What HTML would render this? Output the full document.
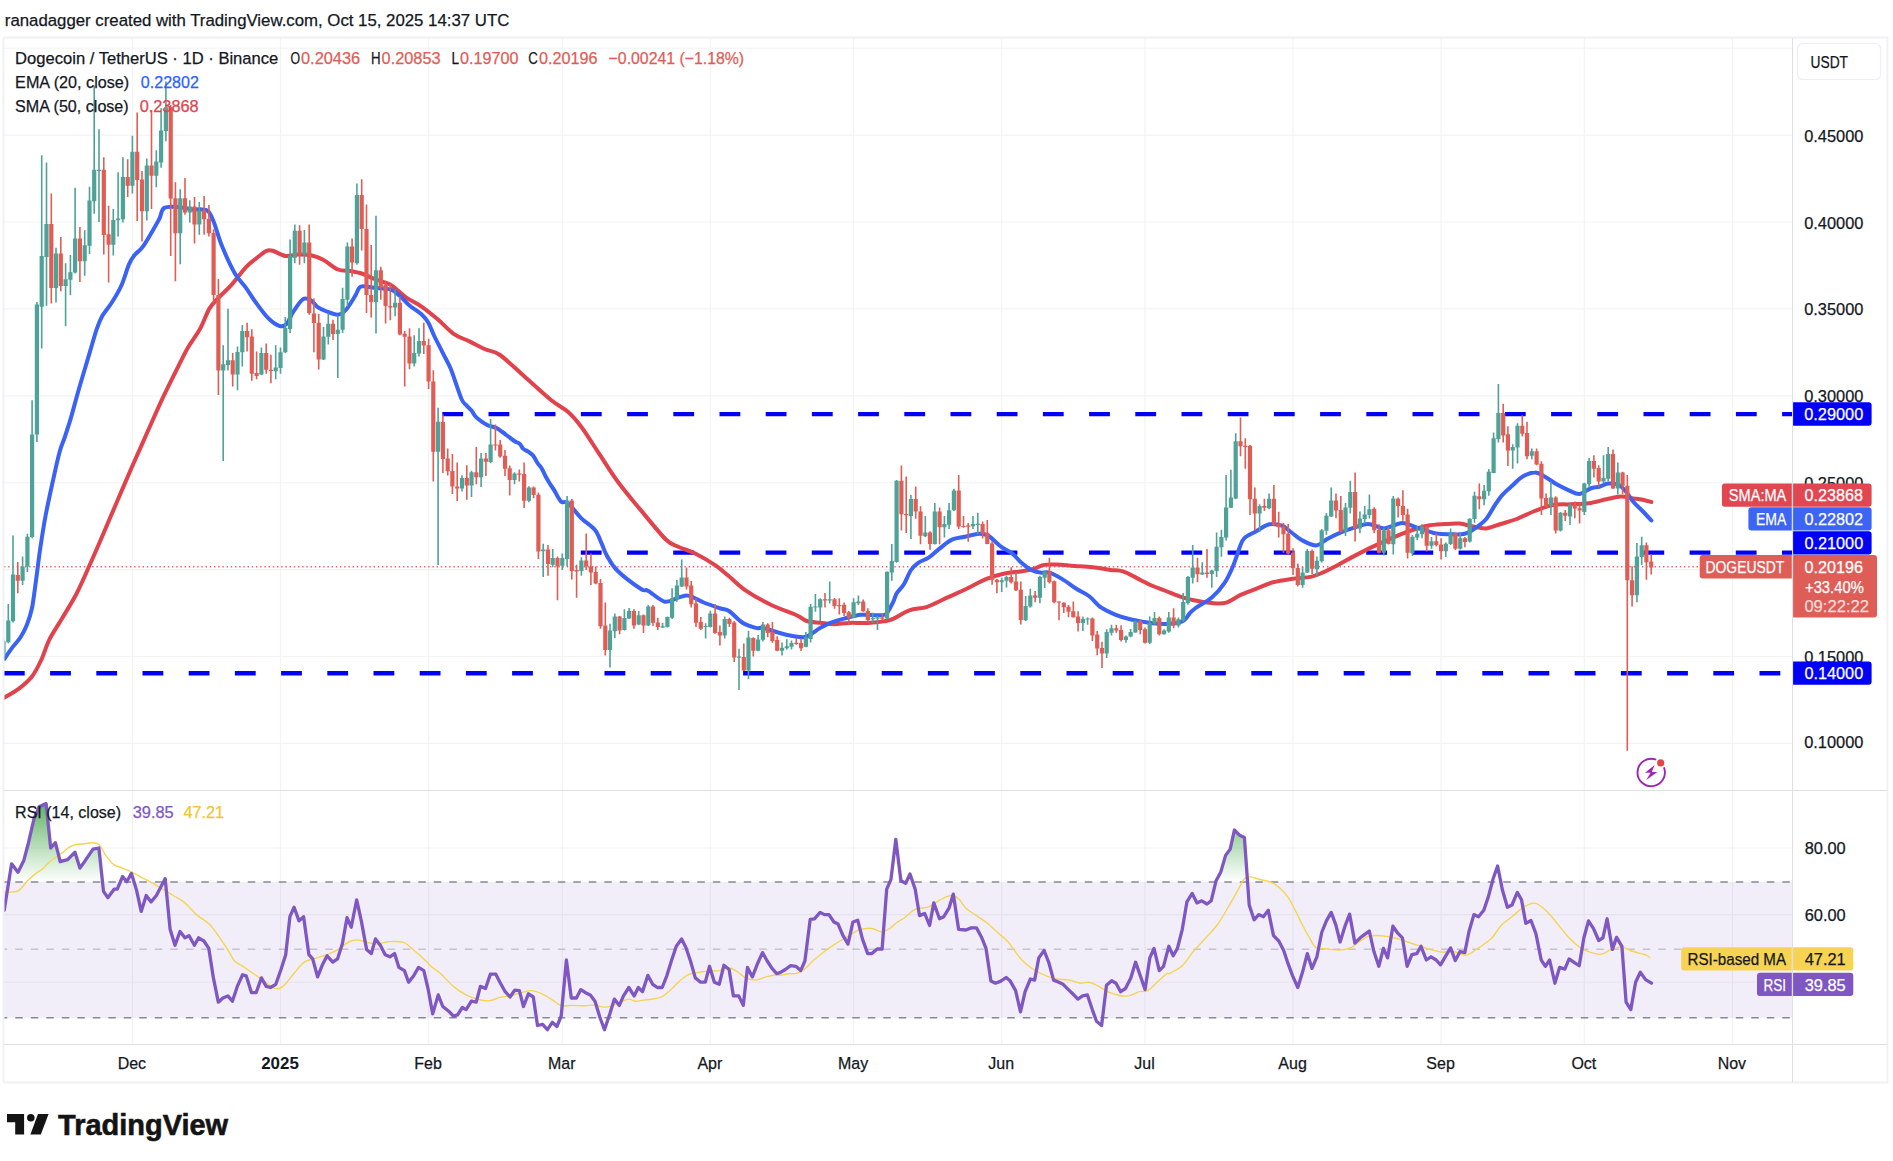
<!DOCTYPE html>
<html><head><meta charset="utf-8"><title>DOGEUSDT chart</title>
<style>html,body{margin:0;padding:0;background:#fff}body{width:1893px;height:1161px;overflow:hidden}svg{display:block}</style></head>
<body>
<svg width="1893" height="1161" viewBox="0 0 1893 1161" font-family='"Liberation Sans", "DejaVu Sans", sans-serif'>
<defs>
<clipPath id="cm"><rect x="4" y="38" width="1788.5" height="752.5"/></clipPath>
<clipPath id="cr"><rect x="4" y="790.5" width="1788.5" height="254.0"/></clipPath>
<linearGradient id="ob" x1="0" y1="790" x2="0" y2="882" gradientUnits="userSpaceOnUse"><stop offset="0" stop-color="#43a047" stop-opacity="1"/><stop offset="1" stop-color="#4caf50" stop-opacity="0"/></linearGradient>
</defs>
<rect width="1893" height="1161" fill="#fff"/>
<text x="4.8" y="26.3" font-size="17.1" fill="#131722" textLength="504.5" lengthAdjust="spacingAndGlyphs" stroke="#131722" stroke-width="0.25">ranadagger created with TradingView.com, Oct 15, 2025 14:37 UTC</text>
<path d="M4 48.2H1792.5M4 135.1H1792.5M4 222H1792.5M4 308.9H1792.5M4 395.8H1792.5M4 482.7H1792.5M4 569.6H1792.5M4 656.5H1792.5M4 743.4H1792.5M4 848H1792.5M4 914.6H1792.5M4 982.2H1792.5M132.4 38V1044.5M280.5 38V1044.5M428.6 38V1044.5M562.3 38V1044.5M710.3 38V1044.5M853.6 38V1044.5M1001.7 38V1044.5M1145.0 38V1044.5M1293.0 38V1044.5M1441.1 38V1044.5M1584.3 38V1044.5M1732.4 38V1044.5" stroke="#f2f3f4" stroke-width="1.15" fill="none"/>
<rect x="4" y="882" width="1788.5" height="136" fill="#7e57c2" fill-opacity="0.1"/>
<g clip-path="url(#cm)">
<path d="M4 566.8H1792.5" stroke="#e2675f" stroke-width="1.5" stroke-dasharray="1.4 2.8" fill="none"/>
<path d="M442.3 414.1H1792.5" stroke="#0000f8" stroke-width="4.4" stroke-dasharray="20.8 25.4" fill="none"/>
<path d="M580.8 552.65H1792.5" stroke="#0000f8" stroke-width="4.4" stroke-dasharray="20.8 25.4" fill="none"/>
<path d="M3.9 673.2H1781" stroke="#0000f8" stroke-width="4.4" stroke-dasharray="20.8 25.4" fill="none"/>
<path d="M4.5 697.5C6.8 696.0 14.0 692.3 18.6 688.8C23.2 685.3 28.2 681.2 32.0 676.4C35.8 671.6 38.4 666.0 41.3 659.8C44.2 653.6 46.1 646.1 49.6 639.2C53.1 632.3 57.5 626.1 62.0 618.5C66.5 610.9 72.0 602.3 76.5 593.7C81.0 585.1 84.8 576.0 88.9 566.8C93.1 557.6 96.9 548.8 101.4 538.3C105.9 527.8 110.9 515.8 116.0 504.0C121.1 492.2 126.6 479.1 131.8 467.3C137.0 455.5 141.9 444.4 147.0 433.0C152.1 421.6 157.6 408.9 162.3 398.9C167.0 388.9 170.8 381.4 175.0 373.0C179.2 364.6 183.4 355.5 187.6 348.2C191.8 340.9 196.3 335.6 200.0 329.0C203.7 322.4 206.3 313.7 209.5 308.4C212.7 303.1 215.3 301.3 219.0 297.3C222.7 293.3 227.2 289.6 231.7 284.6C236.2 279.6 241.8 271.7 246.0 267.2C250.2 262.7 253.6 260.4 257.0 257.7C260.4 255.0 264.0 252.0 266.6 250.8C269.2 249.7 269.7 249.9 272.9 250.8C276.1 251.7 281.4 255.4 285.6 256.0C289.8 256.6 294.1 254.6 298.3 254.5C302.5 254.4 306.7 254.4 310.9 255.3C315.1 256.2 319.1 257.6 323.6 260.0C328.1 262.4 333.4 267.7 337.9 269.5C342.4 271.3 346.6 270.3 350.6 271.0C354.6 271.7 357.8 272.2 361.7 273.5C365.6 274.8 369.6 277.1 374.3 279.0C379.1 280.9 384.9 281.6 390.2 284.6C395.5 287.7 400.7 293.6 406.0 297.3C411.3 301.0 416.6 303.1 421.9 306.8C427.2 310.5 432.4 314.8 437.7 319.3C443.0 323.8 448.3 330.1 453.6 333.8C458.9 337.5 464.1 338.8 469.4 341.4C474.7 344.0 480.2 347.0 485.3 349.3C490.4 351.6 493.4 350.4 500.0 355.0C506.6 359.6 516.5 369.5 525.0 377.0C533.5 384.5 543.9 394.2 551.0 400.0C558.1 405.8 562.8 407.3 567.9 411.8C573.0 416.3 576.3 420.2 581.4 427.0C586.5 433.8 592.1 443.1 598.3 452.4C604.5 461.7 611.5 473.2 618.6 482.8C625.7 492.4 632.7 500.4 640.6 509.9C648.5 519.4 659.6 533.4 665.9 539.5C672.2 545.6 673.4 544.5 678.3 546.8C683.2 549.1 689.0 550.4 695.2 553.5C701.4 556.6 709.9 561.6 715.5 565.4C721.1 569.2 723.9 572.1 729.0 576.3C734.1 580.5 738.9 585.9 745.9 590.7C752.9 595.5 762.8 600.9 771.3 605.0C779.8 609.1 790.7 612.5 796.6 615.2C802.5 617.9 802.8 619.7 806.8 621.0C810.8 622.3 815.8 622.3 820.3 622.8C824.8 623.3 828.8 624.2 833.8 624.2C838.8 624.2 844.3 623.1 850.0 622.9C855.7 622.7 861.4 623.3 868.0 622.9C874.6 622.5 882.6 622.3 889.5 620.2C896.4 618.1 903.0 612.6 909.3 610.4C915.6 608.2 920.6 609.0 927.2 606.8C933.8 604.5 942.2 599.9 948.8 596.9C955.4 593.9 960.4 591.8 966.7 588.8C973.0 585.8 980.2 581.4 986.5 578.9C992.8 576.4 998.8 574.8 1004.5 573.5C1010.2 572.2 1015.8 572.1 1020.6 571.4C1025.4 570.6 1029.3 570.1 1033.2 569.0C1037.1 567.9 1040.1 565.6 1044.0 564.9C1047.9 564.2 1051.4 564.4 1056.5 564.6C1061.6 564.8 1068.5 565.6 1074.5 566.0C1080.5 566.4 1086.5 566.6 1092.5 567.2C1098.5 567.9 1105.3 569.2 1110.4 569.9C1115.5 570.6 1118.5 570.0 1123.0 571.4C1127.5 572.8 1132.6 576.0 1137.4 578.4C1142.2 580.8 1146.9 583.4 1151.7 585.5C1156.5 587.6 1161.5 589.2 1166.0 591.0C1170.5 592.8 1174.0 594.5 1178.7 596.0C1183.4 597.5 1188.4 599.1 1193.9 600.3C1199.4 601.5 1206.4 602.6 1211.8 603.0C1217.2 603.4 1221.4 604.0 1226.2 602.6C1231.0 601.2 1235.5 597.2 1240.6 594.9C1245.7 592.6 1251.3 590.7 1256.7 588.6C1262.1 586.5 1266.9 583.9 1272.9 582.3C1278.9 580.6 1286.4 579.6 1292.7 578.7C1299.0 577.8 1305.5 578.0 1310.6 576.9C1315.7 575.8 1318.7 574.3 1323.2 572.4C1327.7 570.5 1332.2 568.0 1337.6 565.2C1343.0 562.4 1349.5 558.5 1355.5 555.4C1361.5 552.3 1367.5 549.2 1373.5 546.4C1379.5 543.5 1385.4 540.9 1391.4 538.3C1397.4 535.7 1403.4 533.1 1409.4 531.0C1415.4 528.9 1421.4 526.9 1427.4 525.7C1433.4 524.5 1439.9 524.4 1445.3 524.0C1450.7 523.6 1455.3 523.2 1459.7 523.6C1464.1 524.0 1467.4 525.4 1471.8 526.2C1476.2 527.0 1481.4 528.8 1486.2 528.4C1491.0 528.0 1495.5 525.6 1500.6 524.0C1505.7 522.4 1511.0 521.2 1516.7 519.0C1522.4 516.8 1528.7 513.3 1534.7 511.0C1540.7 508.7 1546.7 506.1 1552.7 505.0C1558.7 503.9 1564.6 504.6 1570.6 504.3C1576.6 504.0 1582.6 504.1 1588.6 503.3C1594.6 502.5 1601.1 500.4 1606.5 499.3C1611.9 498.2 1616.4 496.8 1620.9 496.6C1625.4 496.5 1629.9 497.9 1633.5 498.4C1637.1 498.9 1639.5 499.1 1642.5 499.7C1645.5 500.3 1649.9 501.6 1651.4 502.0" stroke="#e0434c" stroke-width="4" fill="none" stroke-linejoin="round" stroke-linecap="round"/>
<path d="M4.5 658.8C5.8 656.9 9.7 651.0 12.4 647.4C15.1 643.8 18.3 640.8 20.7 637.0C23.1 633.2 25.0 629.5 26.9 624.7C28.8 619.9 30.4 615.6 32.0 608.0C33.5 600.4 34.8 589.0 36.2 579.0C37.6 569.0 38.7 558.6 40.3 548.0C41.9 537.4 43.6 526.0 45.6 515.5C47.6 505.0 49.7 495.6 52.0 485.0C54.3 474.4 57.5 459.8 59.6 452.0C61.7 444.2 62.7 443.4 64.5 438.0C66.3 432.6 68.1 427.2 70.3 419.9C72.5 412.6 75.0 402.9 77.5 394.0C80.0 385.1 83.2 374.4 85.5 366.7C87.8 359.0 89.2 354.1 91.1 347.8C93.0 341.5 94.9 334.2 96.8 328.8C98.7 323.4 100.0 320.0 102.5 315.6C105.0 311.2 108.8 307.4 112.0 302.3C115.2 297.2 118.7 291.5 121.5 285.2C124.3 278.9 126.8 269.4 129.0 264.4C131.2 259.3 132.5 257.7 134.7 254.9C136.9 252.1 139.5 251.2 142.3 247.4C145.2 243.6 149.0 236.9 151.8 232.2C154.6 227.4 157.2 222.9 159.3 218.9C161.4 214.9 161.1 210.0 164.1 208.0C167.1 206.0 172.7 206.7 177.5 206.9C182.3 207.1 188.9 209.0 192.7 209.4C196.4 209.8 197.4 209.1 200.0 209.3C202.6 209.6 205.8 208.9 208.0 210.9C210.2 212.9 211.1 215.2 213.5 221.2C215.9 227.1 218.6 237.9 222.2 246.6C225.8 255.3 230.9 266.6 234.9 273.5C238.9 280.4 242.6 283.1 246.0 287.8C249.4 292.6 251.8 297.0 255.5 302.0C259.2 307.0 264.1 313.9 268.0 317.9C271.9 321.9 276.1 324.8 279.2 325.8C282.3 326.9 284.0 326.6 286.4 324.2C288.8 321.8 290.7 315.7 293.5 311.5C296.3 307.3 300.1 301.1 303.0 299.2C305.9 297.3 308.6 299.1 311.0 300.4C313.4 301.7 314.7 304.9 317.3 306.8C319.9 308.7 323.4 310.2 326.8 311.5C330.2 312.8 334.7 314.9 337.9 314.7C341.1 314.4 342.9 313.2 345.8 310.0C348.7 306.8 352.8 299.6 355.3 295.7C357.8 291.8 357.7 287.8 360.9 286.5C364.1 285.2 369.4 287.3 374.3 287.8C379.2 288.3 386.0 288.1 390.2 289.4C394.4 290.7 396.5 293.1 399.7 295.7C402.9 298.3 405.5 302.0 409.2 305.2C412.9 308.4 418.7 311.8 421.9 314.7C425.1 317.6 426.1 318.8 428.2 322.4C430.3 326.0 432.1 331.5 434.5 336.5C436.9 341.5 439.9 347.1 442.5 352.3C445.1 357.6 448.0 362.4 450.4 368.0C452.8 373.6 454.8 380.3 456.7 385.6C458.6 390.9 460.4 396.7 462.0 400.0C463.6 403.3 464.6 403.5 466.2 405.2C467.8 406.9 469.8 408.4 471.3 410.3C472.9 412.2 473.8 414.6 475.5 416.5C477.2 418.4 479.6 420.2 481.7 421.7C483.8 423.2 485.5 424.3 487.9 425.3C490.3 426.3 493.7 426.8 496.1 427.9C498.5 429.0 500.2 430.5 502.3 432.0C504.4 433.5 506.4 435.1 508.5 436.7C510.6 438.2 512.8 440.1 514.7 441.3C516.6 442.5 518.5 442.7 519.9 443.9C521.3 445.1 521.6 447.3 523.0 448.6C524.4 449.9 526.5 450.5 528.2 451.7C529.9 452.9 531.8 453.9 533.3 455.8C534.8 457.7 536.1 460.9 537.5 463.0C538.9 465.1 540.2 465.9 541.6 468.2C543.0 470.4 544.3 473.9 545.7 476.5C547.1 479.1 548.5 481.5 549.9 483.7C551.3 485.9 552.1 486.9 554.0 489.9C555.9 492.9 558.7 499.3 561.0 501.5C563.3 503.7 564.5 500.2 567.9 503.0C571.3 505.8 576.9 513.8 581.4 518.3C585.9 522.8 591.6 525.8 595.0 530.0C598.4 534.2 599.7 539.5 601.7 543.7C603.7 548.0 604.2 551.0 606.8 555.5C609.4 560.0 611.8 565.2 617.5 570.8C623.2 576.4 635.9 585.7 641.0 589.0C646.1 592.3 643.9 588.6 647.9 590.7C651.9 592.8 659.7 600.6 664.8 601.7C669.9 602.8 674.6 598.5 678.3 597.5C682.0 596.5 684.3 595.4 686.8 595.4C689.3 595.4 690.7 596.3 693.5 597.5C696.3 598.7 699.2 600.7 703.7 602.5C708.2 604.3 716.4 607.1 720.6 608.5C724.8 609.9 725.3 608.6 729.0 611.0C732.7 613.4 738.1 620.0 742.6 622.8C747.1 625.6 752.6 627.0 756.0 627.9C759.4 628.8 759.4 627.2 762.8 627.9C766.2 628.6 771.9 630.7 776.4 632.0C780.9 633.3 785.4 634.6 789.9 635.5C794.4 636.4 800.0 637.3 803.4 637.2C806.8 637.1 807.2 636.2 810.0 634.7C812.8 633.2 816.9 629.9 820.3 627.9C823.7 625.9 826.4 624.3 830.4 622.8C834.4 621.2 838.9 619.9 844.0 618.6C849.1 617.3 855.3 615.4 860.8 614.8C866.3 614.2 872.8 615.3 877.0 615.2C881.2 615.1 883.3 616.1 886.0 614.0C888.7 611.9 891.2 605.8 893.0 602.3C894.8 598.8 894.9 596.3 896.7 593.3C898.5 590.3 901.5 588.2 903.9 584.3C906.3 580.4 908.6 573.6 911.0 570.0C913.4 566.4 915.2 564.9 918.2 562.8C921.2 560.7 925.4 559.8 929.0 557.4C932.6 555.0 935.9 551.4 939.8 548.4C943.7 545.4 948.2 541.3 952.4 539.4C956.6 537.5 960.5 537.7 965.0 536.7C969.5 535.8 975.4 533.9 979.3 533.7C983.2 533.6 984.7 533.6 988.3 535.8C991.9 537.9 997.0 543.8 1000.9 546.6C1004.8 549.5 1008.3 550.4 1011.6 552.9C1014.9 555.4 1017.3 559.0 1020.6 561.9C1023.9 564.8 1028.1 568.2 1031.4 570.0C1034.7 571.8 1037.4 572.2 1040.4 572.6C1043.4 573.0 1045.8 571.6 1049.4 572.6C1053.0 573.6 1057.4 576.2 1061.9 578.9C1066.4 581.6 1071.8 585.9 1076.3 588.8C1080.8 591.6 1084.7 592.9 1088.9 596.0C1093.1 599.1 1096.9 604.6 1101.4 607.7C1105.9 610.8 1111.0 612.9 1115.8 614.8C1120.6 616.7 1125.4 618.1 1130.2 619.3C1135.0 620.5 1139.7 621.2 1144.5 622.0C1149.3 622.8 1154.1 623.5 1158.9 623.8C1163.7 624.0 1169.1 624.1 1173.3 623.5C1177.5 622.9 1181.2 622.0 1184.0 620.2C1186.8 618.5 1188.0 615.0 1190.0 613.0C1192.0 611.0 1192.1 610.6 1195.7 608.0C1199.3 605.4 1207.0 601.7 1211.8 597.6C1216.6 593.5 1220.8 588.6 1224.4 583.2C1228.0 577.8 1230.9 571.2 1233.4 565.2C1236.0 559.2 1237.9 551.8 1239.7 547.3C1241.5 542.8 1241.7 540.8 1244.2 538.3C1246.7 535.8 1250.7 534.3 1254.9 532.0C1259.1 529.7 1264.8 525.3 1269.3 524.3C1273.8 523.2 1278.3 524.4 1281.9 525.7C1285.5 527.0 1287.6 529.6 1290.9 532.0C1294.2 534.4 1297.4 537.8 1301.6 540.0C1305.8 542.2 1311.8 545.6 1316.0 545.5C1320.2 545.4 1323.2 541.2 1326.8 539.2C1330.4 537.2 1333.4 535.6 1337.6 533.8C1341.8 532.0 1346.8 530.0 1351.9 528.4C1357.0 526.8 1362.6 523.9 1368.0 523.9C1373.4 523.9 1378.6 528.5 1384.3 528.4C1390.0 528.2 1396.6 523.1 1402.2 523.0C1407.8 522.9 1412.4 526.3 1418.0 528.0C1423.6 529.7 1430.5 532.4 1435.9 533.4C1441.3 534.4 1445.5 534.2 1450.3 534.3C1455.1 534.4 1460.5 534.8 1464.7 533.8C1468.9 532.8 1471.8 530.5 1475.4 528.0C1479.0 525.5 1482.9 522.9 1486.2 519.0C1489.5 515.1 1492.5 508.7 1495.2 504.7C1497.9 500.7 1499.4 498.1 1502.4 494.8C1505.4 491.5 1509.7 488.0 1513.0 485.0C1516.3 482.0 1518.4 479.0 1522.0 476.9C1525.6 474.8 1531.1 472.5 1534.7 472.4C1538.3 472.2 1540.1 474.1 1543.7 476.0C1547.3 477.9 1552.0 481.6 1556.2 484.0C1560.4 486.4 1564.9 488.6 1568.8 490.3C1572.7 492.0 1576.0 494.3 1579.6 494.0C1583.2 493.7 1587.1 489.7 1590.4 488.5C1593.7 487.3 1596.4 487.5 1599.4 486.7C1602.4 485.9 1605.0 483.8 1608.3 483.5C1611.6 483.2 1616.0 483.6 1619.0 485.0C1622.0 486.4 1623.9 489.2 1626.3 492.0C1628.7 494.8 1630.8 498.8 1633.5 502.0C1636.2 505.2 1639.5 507.9 1642.5 511.0C1645.5 514.1 1649.9 518.9 1651.4 520.5" stroke="#3a62f5" stroke-width="4" fill="none" stroke-linejoin="round" stroke-linecap="round"/>
<path d="M3.5 639.2V657.8M8.3 604.0V643.3M13.0 535.4V622.6M22.6 556.5V585.0M27.4 533.7V572.0M32.1 400.2V538.3M36.9 302.0V442.0M41.7 155.2V348.4M46.5 162.6V305.7M56.0 247.8V302.6M65.6 263.3V326.3M70.4 255.0V295.3M75.1 187.8V273.6M84.7 230.2V275.7M89.5 186.8V254.0M94.2 85.5V213.7M99.0 129.3V221.9M113.3 208.9V255.4M118.1 172.3V236.4M122.9 157.2V222.4M132.4 135.7V193.4M146.8 158.5V220.5M156.3 150.2V187.2M161.1 108.2V167.8M165.9 81.4V141.3M180.2 189.3V264.3M189.8 200.2V222.6M199.3 201.9V234.8M223.2 345.2V460.9M228.0 308.7V370.5M237.5 346.4V390.3M242.3 325.0V366.6M261.4 347.5V375.3M275.7 345.2V379.2M280.5 347.5V373.7M285.3 317.1V353.1M290.1 239.4V332.9M294.8 224.4V263.2M304.4 229.9V263.2M323.5 326.9V359.9M328.3 313.5V344.4M337.8 315.8V378.0M342.6 287.8V332.9M347.4 242.6V306.8M356.9 183.5V264.8M376.0 215.7V333.4M395.1 289.4V316.3M414.2 335.2V366.6M419.0 328.2V356.6M438.1 407.8V565.0M462.0 475.2V491.5M471.5 470.8V496.9M481.1 452.9V487.1M490.6 418.9V463.2M514.5 472.3V484.2M528.9 486.3V502.3M543.2 543.7V577.1M552.7 549.1V567.3M562.3 553.5V569.9M567.1 496.0V566.5M581.4 557.2V575.8M610.0 623.7V667.6M614.8 613.5V638.0M624.4 609.3V630.4M629.1 608.0V619.1M638.7 611.0V624.9M648.3 605.1V625.9M662.6 622.8V627.9M667.4 616.4V627.6M672.1 588.2V619.1M676.9 580.1V601.7M681.7 559.4V587.0M705.6 623.3V638.5M710.3 610.7V627.6M724.7 616.6V638.5M739.0 648.7V690.1M748.5 630.9V678.9M758.1 635.0V651.2M762.9 622.0V641.4M782.0 642.6V655.4M786.8 639.2V649.5M791.5 640.6V649.5M805.9 632.1V647.3M810.6 603.9V642.6M815.4 594.1V611.8M820.2 598.3V621.1M829.7 581.4V603.4M853.6 598.3V618.1M858.4 595.6V605.0M872.7 612.7V622.9M877.5 615.7V630.1M887.1 571.4V619.3M891.8 543.9V580.7M896.6 480.1V562.8M910.9 494.9V538.9M925.3 516.1V537.1M934.8 503.1V544.4M944.4 516.1V537.6M949.1 503.1V529.0M953.9 488.8V511.0M973.0 516.1V529.0M977.8 512.8V534.6M1001.7 577.7V592.0M1006.5 575.7V587.5M1025.6 596.0V621.1M1030.3 588.8V607.7M1039.9 575.7V603.2M1044.7 570.8V587.9M1082.9 616.6V631.0M1087.6 617.5V624.7M1106.7 629.2V657.9M1111.5 624.7V635.5M1125.9 635.5V642.7M1130.6 628.9V637.3M1135.4 620.2V632.8M1149.7 616.6V643.9M1154.5 612.1V624.7M1164.1 629.2V634.6M1168.8 612.1V632.8M1178.4 617.5V627.4M1183.2 593.1V621.8M1187.9 576.0V604.7M1192.7 545.1V583.5M1202.3 562.2V575.1M1211.8 569.7V587.7M1216.6 532.5V576.9M1221.4 529.8V556.8M1226.1 475.1V540.4M1230.9 469.7V508.1M1235.7 433.2V499.3M1259.6 504.2V532.0M1269.1 493.4V509.2M1302.6 567.0V587.7M1307.3 549.1V573.0M1316.9 556.6V576.5M1321.7 529.0V562.5M1326.4 513.1V534.7M1331.2 487.6V517.1M1345.5 502.9V536.1M1350.3 480.8V513.5M1359.9 511.4V533.3M1364.7 506.0V523.9M1369.4 494.6V518.5M1383.8 527.9V555.4M1393.3 496.1V554.5M1412.4 535.1V555.9M1417.2 526.6V540.1M1422.0 524.3V538.3M1431.5 536.9V548.7M1445.8 542.4V557.1M1450.6 528.4V545.1M1460.2 532.5V549.4M1469.7 518.2V542.4M1474.5 491.8V522.7M1484.1 484.9V505.2M1488.8 469.3V495.7M1493.6 432.5V473.3M1498.4 384.0V442.4M1512.7 444.2V468.8M1517.5 423.3V463.4M1531.8 448.5V459.3M1550.9 481.4V515.1M1560.5 511.9V531.6M1570.0 503.3V525.0M1584.3 482.8V515.1M1589.1 458.0V487.6M1603.5 455.3V483.1M1608.2 446.9V481.4M1617.8 462.5V494.5M1636.9 543.0V602.3M1641.7 536.7V565.1" stroke="#4ea297" stroke-width="1.6" fill="none"/>
<path d="M17.8 562.1V593.3M51.3 193.6V303.6M60.8 237.0V291.2M79.9 227.1V281.9M103.8 157.2V254.6M108.6 205.8V282.5M127.7 159.3V197.1M137.2 112.4V220.9M142.0 170.9V241.6M151.5 110.3V208.9M170.7 105.1V256.0M175.4 182.2V281.3M185.0 177.9V214.7M194.5 197.1V243.6M204.1 196.1V234.8M208.9 205.0V236.4M213.6 229.2V303.6M218.4 279.1V395.1M232.7 353.1V386.4M247.1 322.7V351.5M251.8 329.3V380.8M256.6 351.5V379.2M266.2 343.6V373.7M270.9 354.7V383.2M299.6 225.2V264.8M309.2 224.4V314.7M313.9 298.4V352.3M318.7 313.9V369.4M333.0 319.8V339.9M352.1 238.6V276.7M361.7 179.2V250.5M366.5 204.6V313.1M371.2 245.0V317.6M380.8 266.8V299.7M385.6 281.4V323.4M390.3 283.8V320.3M399.9 296.5V335.3M404.7 330.9V386.4M409.5 328.2V369.3M423.8 322.7V353.9M428.6 338.8V389.1M433.3 370.2V481.5M442.9 414.5V472.9M447.7 448.4V475.4M452.4 454.0V494.0M457.2 462.5V501.1M466.8 465.3V499.7M476.3 447.0V484.2M485.9 452.9V476.0M495.4 424.6V450.4M500.2 440.1V457.7M505.0 450.1V476.0M509.7 465.6V495.6M519.3 469.4V481.6M524.1 462.5V508.0M533.6 486.6V498.2M538.4 492.6V558.9M548.0 545.0V575.8M557.5 556.4V600.3M571.8 498.9V579.5M576.6 564.8V597.8M586.2 533.5V569.9M590.9 553.5V585.1M595.7 566.5V584.2M600.5 578.9V628.7M605.3 602.5V655.4M619.6 616.1V634.3M633.9 609.3V628.7M643.5 614.4V633.0M653.0 605.1V625.9M657.8 617.8V630.1M686.5 567.6V589.5M691.2 581.1V607.6M696.0 598.3V627.1M700.8 616.9V630.1M715.1 603.9V633.8M719.9 625.4V645.6M729.4 617.8V627.1M734.2 621.1V662.0M743.8 643.4V671.0M753.3 637.2V656.6M767.7 623.2V637.2M772.4 622.0V642.8M777.2 636.3V651.2M796.3 637.7V644.8M801.1 638.5V651.1M825.0 592.9V607.6M834.5 598.0V608.8M839.3 598.3V614.4M844.1 602.5V616.1M848.8 611.0V625.0M863.2 599.6V611.8M867.9 608.2V622.9M882.3 613.9V620.2M901.4 465.4V530.4M906.2 476.6V533.1M915.7 486.4V518.8M920.5 506.2V544.3M930.0 531.3V549.8M939.6 507.4V544.3M958.7 475.1V529.0M963.5 516.1V527.7M968.2 522.9V541.7M982.6 521.5V538.5M987.3 520.0V544.3M992.1 541.2V584.8M996.9 578.9V593.3M1011.2 567.2V583.4M1016.0 571.7V591.0M1020.8 581.6V624.4M1035.1 591.0V602.3M1049.4 557.7V583.4M1054.2 580.4V603.2M1059.0 601.4V620.2M1063.8 602.3V613.0M1068.5 605.0V617.2M1073.3 601.4V617.5M1078.1 611.2V631.5M1092.4 617.5V640.9M1097.2 631.0V655.3M1102.0 641.8V668.0M1116.3 624.7V632.8M1121.1 625.3V641.4M1140.2 620.2V634.2M1145.0 627.4V643.6M1159.3 616.6V635.5M1173.6 608.2V628.3M1197.5 557.7V582.3M1207.0 549.1V577.8M1240.5 417.6V456.2M1245.3 438.3V468.8M1250.0 444.9V514.9M1254.8 487.6V530.6M1264.4 498.8V511.0M1273.9 484.9V526.3M1278.7 511.7V537.4M1283.5 522.7V552.7M1288.2 523.9V554.5M1293.0 548.2V575.1M1297.8 563.4V586.4M1312.1 549.6V573.9M1336.0 493.4V518.2M1340.8 496.1V532.5M1355.1 472.4V541.5M1374.2 507.2V533.3M1379.0 524.3V553.2M1388.5 527.0V544.6M1398.1 497.5V517.6M1402.9 490.3V520.7M1407.6 508.7V558.6M1426.7 525.7V551.4M1436.3 533.3V546.4M1441.1 538.3V559.5M1455.4 532.5V550.0M1464.9 536.9V547.3M1479.3 483.5V509.2M1503.2 403.8V442.4M1507.9 426.2V466.1M1522.3 415.3V436.5M1527.0 421.7V459.3M1536.6 448.5V465.2M1541.4 461.2V515.1M1546.1 493.6V507.4M1555.7 496.3V533.4M1565.2 510.1V520.9M1574.8 501.6V518.2M1579.6 502.5V523.6M1593.9 455.3V477.4M1598.7 465.2V486.7M1613.0 449.6V489.1M1622.6 471.8V493.9M1627.3 475.1V750.7M1632.1 566.3V606.5M1646.4 542.6V579.8M1651.2 554.7V574.4" stroke="#e05d55" stroke-width="1.6" fill="none"/>
<path d="M1.4 641.2h4.2V655.7h-4.2zM6.2 620.6h4.2V642.3h-4.2zM10.9 574.5h4.2V621.2h-4.2zM20.5 566.4h4.2V580.7h-4.2zM25.3 536.8h4.2V566.4h-4.2zM30.0 434.4h4.2V537.1h-4.2zM34.8 304.6h4.2V434.4h-4.2zM39.6 256.0h4.2V306.7h-4.2zM44.4 224.0h4.2V257.1h-4.2zM53.9 253.6h4.2V288.1h-4.2zM63.5 279.2h4.2V286.0h-4.2zM68.3 272.2h4.2V279.8h-4.2zM73.0 238.5h4.2V272.6h-4.2zM82.6 245.3h4.2V261.2h-4.2zM87.4 200.6h4.2V245.7h-4.2zM92.1 169.8h4.2V201.3h-4.2zM96.9 169.8h4.2V171.0h-4.2zM111.2 219.9h4.2V244.7h-4.2zM116.0 218.4h4.2V220.3h-4.2zM120.8 176.9h4.2V219.3h-4.2zM130.3 151.7h4.2V185.8h-4.2zM144.7 165.5h4.2V211.2h-4.2zM154.2 161.6h4.2V175.8h-4.2zM159.0 130.6h4.2V162.4h-4.2zM163.8 107.2h4.2V131.0h-4.2zM178.1 198.2h4.2V233.3h-4.2zM187.7 206.4h4.2V212.6h-4.2zM197.2 210.6h4.2V224.6h-4.2zM221.1 364.2h4.2V370.5h-4.2zM225.9 360.2h4.2V365.0h-4.2zM235.4 352.0h4.2V374.5h-4.2zM240.2 330.9h4.2V352.3h-4.2zM259.3 353.1h4.2V374.5h-4.2zM273.6 367.4h4.2V371.3h-4.2zM278.4 352.3h4.2V368.1h-4.2zM283.2 327.7h4.2V352.3h-4.2zM288.0 256.1h4.2V329.0h-4.2zM292.7 230.7h4.2V257.7h-4.2zM302.3 242.6h4.2V254.5h-4.2zM321.4 336.5h4.2V359.4h-4.2zM326.2 323.8h4.2V336.8h-4.2zM335.7 329.8h4.2V334.1h-4.2zM340.5 298.9h4.2V329.8h-4.2zM345.3 246.6h4.2V299.7h-4.2zM354.8 195.1h4.2V263.2h-4.2zM373.9 270.3h4.2V302.0h-4.2zM393.0 302.8h4.2V307.6h-4.2zM412.1 353.1h4.2V363.4h-4.2zM416.9 340.9h4.2V353.6h-4.2zM436.0 421.7h4.2V451.8h-4.2zM459.9 478.0h4.2V488.4h-4.2zM469.4 472.3h4.2V485.6h-4.2zM479.0 458.6h4.2V477.3h-4.2zM488.5 444.4h4.2V462.0h-4.2zM512.4 473.4h4.2V480.1h-4.2zM526.8 487.6h4.2V500.8h-4.2zM541.1 549.6h4.2V551.3h-4.2zM550.6 558.0h4.2V564.8h-4.2zM560.2 558.0h4.2V565.7h-4.2zM565.0 500.6h4.2V558.9h-4.2zM579.3 560.6h4.2V571.1h-4.2zM607.9 630.4h4.2V649.9h-4.2zM612.7 616.4h4.2V631.3h-4.2zM622.3 618.1h4.2V629.9h-4.2zM627.0 611.0h4.2V618.6h-4.2zM636.6 615.2h4.2V624.5h-4.2zM646.2 606.4h4.2V625.4h-4.2zM660.5 626.2h4.2V627.4h-4.2zM665.3 616.9h4.2V627.1h-4.2zM670.0 598.3h4.2V617.8h-4.2zM674.8 585.6h4.2V599.2h-4.2zM679.6 577.5h4.2V586.5h-4.2zM703.5 625.9h4.2V627.1h-4.2zM708.2 613.5h4.2V627.1h-4.2zM722.6 619.1h4.2V635.5h-4.2zM736.9 656.6h4.2V657.8h-4.2zM746.4 637.5h4.2V670.5h-4.2zM756.0 639.4h4.2V650.7h-4.2zM760.8 624.5h4.2V639.7h-4.2zM779.9 647.8h4.2V650.7h-4.2zM784.7 646.2h4.2V648.2h-4.2zM789.4 643.1h4.2V646.8h-4.2zM803.8 637.2h4.2V646.8h-4.2zM808.5 606.8h4.2V638.9h-4.2zM813.3 606.4h4.2V607.6h-4.2zM818.1 599.2h4.2V607.6h-4.2zM827.6 599.2h4.2V600.5h-4.2zM851.5 602.3h4.2V617.5h-4.2zM856.3 601.4h4.2V603.2h-4.2zM870.6 618.1h4.2V619.3h-4.2zM875.4 617.5h4.2V618.8h-4.2zM885.0 571.7h4.2V618.4h-4.2zM889.7 561.0h4.2V572.6h-4.2zM894.5 480.7h4.2V561.9h-4.2zM908.8 499.0h4.2V516.1h-4.2zM923.2 532.6h4.2V536.2h-4.2zM932.7 511.6h4.2V543.9h-4.2zM942.3 524.1h4.2V527.2h-4.2zM947.0 510.3h4.2V524.7h-4.2zM951.8 490.4h4.2V510.3h-4.2zM970.9 524.1h4.2V526.3h-4.2zM975.7 523.8h4.2V525.0h-4.2zM999.6 580.2h4.2V582.2h-4.2zM1004.4 577.1h4.2V580.7h-4.2zM1023.5 605.9h4.2V620.2h-4.2zM1028.2 595.6h4.2V606.4h-4.2zM1037.8 577.1h4.2V597.8h-4.2zM1042.6 571.7h4.2V577.7h-4.2zM1080.8 619.0h4.2V622.9h-4.2zM1085.5 618.4h4.2V619.6h-4.2zM1104.6 631.9h4.2V653.5h-4.2zM1109.4 628.3h4.2V632.8h-4.2zM1123.8 636.4h4.2V640.0h-4.2zM1128.5 631.9h4.2V636.4h-4.2zM1133.3 621.1h4.2V632.4h-4.2zM1147.6 622.9h4.2V642.7h-4.2zM1152.4 618.1h4.2V623.5h-4.2zM1162.0 630.6h4.2V634.2h-4.2zM1166.7 617.5h4.2V631.4h-4.2zM1176.3 619.3h4.2V625.6h-4.2zM1181.1 602.0h4.2V620.5h-4.2zM1185.8 576.9h4.2V602.9h-4.2zM1190.6 567.6h4.2V577.8h-4.2zM1200.2 572.4h4.2V574.6h-4.2zM1209.7 570.6h4.2V573.9h-4.2zM1214.5 546.7h4.2V571.0h-4.2zM1219.3 536.9h4.2V547.3h-4.2zM1224.0 507.4h4.2V537.4h-4.2zM1228.8 497.5h4.2V507.8h-4.2zM1233.6 441.3h4.2V498.4h-4.2zM1257.5 506.0h4.2V513.5h-4.2zM1267.0 498.8h4.2V508.3h-4.2zM1300.5 572.4h4.2V585.0h-4.2zM1305.2 550.9h4.2V572.4h-4.2zM1314.8 560.7h4.2V569.2h-4.2zM1319.6 530.2h4.2V561.3h-4.2zM1324.3 515.8h4.2V530.7h-4.2zM1329.1 500.6h4.2V516.4h-4.2zM1343.4 507.4h4.2V531.6h-4.2zM1348.2 492.1h4.2V507.8h-4.2zM1357.8 518.5h4.2V528.4h-4.2zM1362.6 514.4h4.2V518.9h-4.2zM1367.3 509.2h4.2V514.9h-4.2zM1381.7 530.2h4.2V552.7h-4.2zM1391.2 498.4h4.2V544.2h-4.2zM1410.3 536.9h4.2V553.2h-4.2zM1415.1 533.8h4.2V537.4h-4.2zM1419.9 526.6h4.2V534.3h-4.2zM1429.4 541.3h4.2V545.8h-4.2zM1443.7 543.7h4.2V551.2h-4.2zM1448.5 533.3h4.2V544.0h-4.2zM1458.1 538.3h4.2V548.7h-4.2zM1467.6 518.7h4.2V541.5h-4.2zM1472.4 495.7h4.2V519.1h-4.2zM1482.0 490.7h4.2V499.3h-4.2zM1486.7 471.8h4.2V491.2h-4.2zM1491.5 438.2h4.2V472.9h-4.2zM1496.3 413.1h4.2V439.1h-4.2zM1510.6 446.9h4.2V450.5h-4.2zM1515.4 425.7h4.2V447.6h-4.2zM1529.7 451.2h4.2V455.8h-4.2zM1548.8 497.5h4.2V506.1h-4.2zM1558.4 512.8h4.2V530.4h-4.2zM1567.9 504.7h4.2V516.4h-4.2zM1582.2 483.5h4.2V511.9h-4.2zM1587.0 461.1h4.2V484.0h-4.2zM1601.4 478.1h4.2V481.4h-4.2zM1606.1 454.1h4.2V478.7h-4.2zM1615.7 472.4h4.2V488.5h-4.2zM1634.8 556.5h4.2V595.3h-4.2zM1639.6 545.3h4.2V557.0h-4.2z" fill="#4ea297"/>
<path d="M15.7 575.1h4.2V580.7h-4.2zM49.2 224.0h4.2V288.1h-4.2zM58.7 253.6h4.2V286.0h-4.2zM77.8 238.5h4.2V261.2h-4.2zM101.7 169.8h4.2V235.0h-4.2zM106.5 234.3h4.2V244.7h-4.2zM125.6 176.9h4.2V185.8h-4.2zM135.1 151.7h4.2V180.0h-4.2zM139.9 179.6h4.2V211.2h-4.2zM149.4 165.5h4.2V175.8h-4.2zM168.6 107.2h4.2V198.6h-4.2zM173.3 198.2h4.2V233.3h-4.2zM182.9 198.2h4.2V212.6h-4.2zM192.4 206.4h4.2V224.6h-4.2zM202.0 210.6h4.2V219.3h-4.2zM206.8 218.8h4.2V233.3h-4.2zM211.5 232.9h4.2V294.9h-4.2zM216.3 294.9h4.2V370.5h-4.2zM230.6 360.2h4.2V374.5h-4.2zM245.0 330.9h4.2V337.2h-4.2zM249.7 336.5h4.2V373.7h-4.2zM254.5 372.9h4.2V376.1h-4.2zM264.1 353.1h4.2V369.7h-4.2zM268.8 369.7h4.2V370.9h-4.2zM297.5 230.7h4.2V254.5h-4.2zM307.1 242.6h4.2V313.1h-4.2zM311.8 313.5h4.2V323.0h-4.2zM316.6 322.7h4.2V359.4h-4.2zM330.9 323.8h4.2V334.1h-4.2zM350.0 246.6h4.2V262.4h-4.2zM359.6 195.1h4.2V229.1h-4.2zM364.4 229.1h4.2V294.9h-4.2zM369.1 294.9h4.2V302.0h-4.2zM378.7 270.3h4.2V287.8h-4.2zM383.5 284.6h4.2V306.0h-4.2zM388.2 306.0h4.2V307.6h-4.2zM397.8 302.8h4.2V334.5h-4.2zM402.6 333.8h4.2V336.8h-4.2zM407.4 336.5h4.2V363.4h-4.2zM421.7 340.9h4.2V345.5h-4.2zM426.5 345.2h4.2V381.6h-4.2zM431.2 381.6h4.2V451.8h-4.2zM440.8 422.0h4.2V458.9h-4.2zM445.6 458.4h4.2V471.3h-4.2zM450.3 471.1h4.2V486.6h-4.2zM455.1 486.6h4.2V488.4h-4.2zM464.7 478.0h4.2V485.6h-4.2zM474.2 472.3h4.2V477.3h-4.2zM483.8 458.6h4.2V461.7h-4.2zM493.3 444.4h4.2V445.6h-4.2zM498.1 444.4h4.2V456.6h-4.2zM502.9 455.8h4.2V468.7h-4.2zM507.6 468.2h4.2V480.1h-4.2zM517.2 473.6h4.2V474.8h-4.2zM522.0 473.9h4.2V500.8h-4.2zM531.5 487.6h4.2V495.1h-4.2zM536.3 494.7h4.2V551.6h-4.2zM545.9 549.6h4.2V564.0h-4.2zM555.4 558.0h4.2V566.5h-4.2zM569.7 500.6h4.2V571.1h-4.2zM574.5 569.9h4.2V571.6h-4.2zM584.1 560.6h4.2V566.5h-4.2zM588.8 566.5h4.2V572.4h-4.2zM593.6 572.1h4.2V583.4h-4.2zM598.4 583.1h4.2V626.2h-4.2zM603.2 625.4h4.2V649.9h-4.2zM617.5 616.4h4.2V630.4h-4.2zM631.8 611.0h4.2V625.4h-4.2zM641.4 615.2h4.2V625.4h-4.2zM650.9 606.4h4.2V622.8h-4.2zM655.7 622.5h4.2V627.1h-4.2zM684.4 577.5h4.2V586.5h-4.2zM689.1 585.6h4.2V604.2h-4.2zM693.9 603.4h4.2V622.8h-4.2zM698.7 622.0h4.2V628.7h-4.2zM713.0 613.5h4.2V633.0h-4.2zM717.8 632.1h4.2V635.5h-4.2zM727.3 619.1h4.2V624.0h-4.2zM732.1 622.5h4.2V657.5h-4.2zM741.7 657.1h4.2V670.5h-4.2zM751.2 638.0h4.2V650.7h-4.2zM765.6 624.5h4.2V633.0h-4.2zM770.3 632.1h4.2V641.1h-4.2zM775.1 640.1h4.2V650.7h-4.2zM794.2 642.8h4.2V644.0h-4.2zM799.0 643.1h4.2V648.2h-4.2zM822.9 599.2h4.2V600.5h-4.2zM832.4 599.2h4.2V605.9h-4.2zM837.2 605.1h4.2V606.3h-4.2zM842.0 604.7h4.2V613.0h-4.2zM846.7 612.3h4.2V617.8h-4.2zM861.1 601.4h4.2V611.2h-4.2zM865.8 610.9h4.2V620.2h-4.2zM880.2 617.5h4.2V618.7h-4.2zM899.3 480.7h4.2V514.3h-4.2zM904.1 513.9h4.2V515.2h-4.2zM913.6 499.0h4.2V511.6h-4.2zM918.4 511.6h4.2V535.8h-4.2zM927.9 532.6h4.2V543.9h-4.2zM937.5 511.6h4.2V527.2h-4.2zM956.6 490.4h4.2V526.5h-4.2zM961.4 525.9h4.2V527.1h-4.2zM966.1 525.6h4.2V526.8h-4.2zM980.5 524.1h4.2V533.7h-4.2zM985.2 532.8h4.2V543.9h-4.2zM990.0 543.5h4.2V579.8h-4.2zM994.8 579.8h4.2V582.2h-4.2zM1009.1 577.1h4.2V582.2h-4.2zM1013.9 581.6h4.2V590.2h-4.2zM1018.7 589.7h4.2V619.9h-4.2zM1033.0 595.6h4.2V597.8h-4.2zM1047.3 571.4h4.2V582.2h-4.2zM1052.1 581.3h4.2V602.3h-4.2zM1056.9 601.4h4.2V602.6h-4.2zM1061.7 602.8h4.2V607.3h-4.2zM1066.4 606.8h4.2V611.8h-4.2zM1071.2 611.2h4.2V617.2h-4.2zM1076.0 616.6h4.2V622.9h-4.2zM1090.3 618.4h4.2V635.5h-4.2zM1095.1 634.6h4.2V648.6h-4.2zM1099.9 648.1h4.2V653.5h-4.2zM1114.2 628.3h4.2V630.6h-4.2zM1119.0 630.1h4.2V640.0h-4.2zM1138.1 621.1h4.2V630.1h-4.2zM1142.9 629.2h4.2V642.7h-4.2zM1157.2 618.1h4.2V634.2h-4.2zM1171.5 617.5h4.2V625.3h-4.2zM1195.4 567.6h4.2V574.2h-4.2zM1204.9 572.4h4.2V573.9h-4.2zM1238.4 441.3h4.2V446.3h-4.2zM1243.2 445.8h4.2V447.0h-4.2zM1247.9 445.8h4.2V499.3h-4.2zM1252.7 498.8h4.2V513.5h-4.2zM1262.3 506.0h4.2V507.8h-4.2zM1271.8 498.8h4.2V524.8h-4.2zM1276.6 523.9h4.2V527.2h-4.2zM1281.4 526.6h4.2V534.3h-4.2zM1286.1 533.8h4.2V553.6h-4.2zM1290.9 552.7h4.2V568.3h-4.2zM1295.7 567.9h4.2V585.0h-4.2zM1310.0 550.9h4.2V568.8h-4.2zM1333.9 500.6h4.2V510.5h-4.2zM1338.7 510.1h4.2V531.6h-4.2zM1353.0 492.1h4.2V528.4h-4.2zM1372.1 508.7h4.2V530.2h-4.2zM1376.9 529.7h4.2V552.7h-4.2zM1386.4 530.2h4.2V544.0h-4.2zM1396.0 498.8h4.2V506.0h-4.2zM1400.8 506.0h4.2V514.9h-4.2zM1405.5 514.6h4.2V552.7h-4.2zM1424.6 526.6h4.2V545.8h-4.2zM1434.2 541.3h4.2V545.1h-4.2zM1439.0 544.6h4.2V551.2h-4.2zM1453.3 533.3h4.2V548.7h-4.2zM1462.8 538.3h4.2V541.9h-4.2zM1477.2 496.3h4.2V499.3h-4.2zM1501.1 413.1h4.2V435.6h-4.2zM1505.8 434.3h4.2V450.5h-4.2zM1520.2 425.7h4.2V433.8h-4.2zM1524.9 432.9h4.2V456.2h-4.2zM1534.5 451.2h4.2V464.6h-4.2zM1539.3 463.8h4.2V498.4h-4.2zM1544.0 497.9h4.2V506.5h-4.2zM1553.6 497.5h4.2V530.4h-4.2zM1563.1 512.8h4.2V515.8h-4.2zM1572.7 504.7h4.2V508.6h-4.2zM1577.5 508.3h4.2V510.6h-4.2zM1591.8 461.1h4.2V468.8h-4.2zM1596.6 467.9h4.2V481.4h-4.2zM1610.9 454.1h4.2V488.5h-4.2zM1620.5 472.4h4.2V485.8h-4.2zM1625.2 485.8h4.2V580.2h-4.2zM1630.0 580.2h4.2V595.3h-4.2zM1644.3 545.3h4.2V562.3h-4.2zM1649.1 561.6h4.2V567.4h-4.2z" fill="#e05d55"/>
</g>
<g clip-path="url(#cr)">
<path d="M8.8 881.8L11.6 863.8L18.0 872.3L23.7 860.7L28.5 842.7L33.8 819.5L39.1 806.8L46.1 803.6L50.7 848.0L55.4 842.7L60.2 861.7L67.6 859.6L75.0 852.2L79.9 868.1L84.5 861.7L93.0 849.1L98.9 848.0L102.5 881.8z" fill="url(#ob)"/>
<path d="M1215.8 881.8L1216.1 880.7L1220.7 872.3L1225.6 855.4L1230.2 849.1L1234.4 830.0L1239.7 835.3L1244.4 837.4L1247.6 881.8z" fill="url(#ob)"/>
<path d="M-0.2 882H1792.5M-0.2 1017.7H1792.5" stroke="#868896" stroke-width="1.6" stroke-dasharray="7.5 8" fill="none"/>
<path d="M-0.2 949.2H1792.5" stroke="#868896" stroke-opacity="0.42" stroke-width="1.6" stroke-dasharray="7.5 8" fill="none"/>
<path d="M4.2 892.4C6.5 892.1 14.1 892.8 18.0 890.9C21.8 889.0 24.5 883.7 27.5 880.7C30.5 877.8 33.5 875.3 35.9 873.4C38.4 871.4 40.0 871.1 42.3 869.1C44.6 867.2 46.7 864.2 49.7 861.7C52.7 859.3 56.9 856.8 60.2 854.3C63.6 851.9 67.1 848.6 69.7 846.9C72.4 845.3 73.6 844.9 76.1 844.4C78.5 843.9 81.9 844.1 84.5 843.8C87.2 843.5 89.5 842.5 91.9 842.7C94.4 842.9 97.0 842.7 99.3 844.8C101.6 846.9 103.2 852.0 105.7 855.4C108.1 858.7 111.3 862.8 114.1 864.9C116.9 867.0 119.6 866.8 122.6 868.1C125.6 869.3 128.9 870.7 132.1 872.3C135.2 873.9 138.2 875.8 141.6 877.6C144.9 879.3 148.6 880.9 152.1 882.9C155.7 884.8 159.2 887.1 162.7 889.2C166.2 891.3 169.7 893.4 173.3 895.5C176.8 897.7 180.0 898.7 183.8 901.9C187.7 905.0 192.3 910.9 196.5 914.6C200.7 918.3 205.3 920.2 209.2 924.1C213.1 927.9 216.6 933.4 219.8 937.8C222.9 942.2 225.7 946.6 228.2 950.5C230.7 954.4 232.1 958.4 234.5 961.0C237.0 963.7 239.8 964.2 243.0 966.3C246.2 968.4 250.0 971.3 253.6 973.7C257.1 976.2 261.0 978.8 264.1 981.1C267.3 983.4 270.1 986.2 272.6 987.5C275.0 988.7 276.8 989.0 278.9 988.5C281.0 988.0 282.8 986.8 285.3 984.3C287.7 981.8 290.5 977.4 293.7 973.7C296.9 970.0 300.4 964.7 304.3 962.1C308.2 959.5 312.7 959.3 317.0 957.9C321.2 956.5 326.1 955.1 329.6 953.6C333.2 952.2 334.9 951.4 338.1 949.4C341.3 947.5 345.5 943.6 348.7 942.0C351.8 940.4 354.3 939.9 357.1 939.9C359.9 939.9 362.4 941.3 365.6 942.0C368.7 942.7 372.6 944.1 376.1 944.1C379.6 944.1 384.4 942.4 386.7 942.0C389.0 941.6 387.2 941.5 390.0 941.6C392.8 941.7 399.5 940.8 403.7 942.4C408.0 944.1 411.7 948.4 415.4 951.5C419.1 954.6 423.1 958.4 425.9 961.0C428.7 963.7 429.8 965.3 432.3 967.4C434.7 969.5 437.2 970.6 440.7 973.7C444.2 976.9 449.2 982.9 453.4 986.4C457.6 989.9 461.8 992.7 466.1 994.9C470.3 997.0 474.9 998.5 478.7 999.5C482.6 1000.5 485.8 1001.1 489.3 1000.8C492.8 1000.4 496.4 998.2 499.9 997.4C503.4 996.6 506.9 996.7 510.4 995.9C514.0 995.1 517.5 993.6 521.0 992.7C524.5 991.9 528.1 990.5 531.6 990.6C535.1 990.8 538.6 992.2 542.1 993.8C545.7 995.4 549.5 998.1 552.7 1000.1C555.9 1002.1 558.0 1005.0 561.2 1005.8C564.3 1006.7 567.8 1005.4 571.7 1005.4C575.6 1005.4 580.5 1005.9 584.4 1005.8C588.3 1005.8 591.8 1004.8 595.0 1005.0C598.1 1005.2 600.6 1007.0 603.4 1007.1C606.2 1007.2 609.1 1006.7 611.9 1005.8C614.7 1005.0 617.5 1003.4 620.3 1002.2C623.1 1001.1 626.3 999.3 628.8 999.1C631.2 998.9 632.6 1001.0 635.1 1001.2C637.6 1001.4 640.4 1000.6 643.6 1000.1C646.7 999.7 651.0 999.3 654.1 998.7C657.3 998.1 659.8 998.1 662.6 996.5C665.4 995.0 668.2 992.1 671.0 989.6C673.9 987.0 676.7 983.6 679.5 981.1C682.3 978.7 685.1 976.2 687.9 974.8C690.8 973.4 693.2 973.3 696.4 972.7C699.6 972.1 703.1 971.5 707.0 971.2C710.8 970.8 716.1 971.1 719.6 970.6C723.2 970.0 725.3 967.7 728.1 967.8C730.9 967.9 733.7 969.6 736.5 971.2C739.4 972.8 741.8 976.0 745.0 977.5C748.2 979.0 752.0 980.2 755.6 980.1C759.1 980.0 762.6 977.8 766.1 976.9C769.6 976.0 774.4 975.0 776.7 974.8C779.0 974.5 778.0 975.6 780.0 975.4C782.0 975.2 785.6 974.1 788.5 973.7C791.3 973.4 794.1 974.2 796.9 973.3C799.7 972.4 802.5 970.7 805.4 968.4C808.2 966.2 810.6 962.8 813.8 960.0C817.0 957.2 820.9 954.2 824.4 951.5C827.9 948.9 831.4 946.4 834.9 944.1C838.5 941.9 841.6 940.1 845.5 937.8C849.4 935.5 854.0 932.0 858.2 930.4C862.4 928.8 867.0 928.0 870.9 928.3C874.7 928.5 878.3 931.9 881.4 931.9C884.6 931.9 887.4 929.8 889.9 928.3C892.3 926.8 893.8 924.8 896.2 923.0C898.7 921.2 901.5 920.0 904.7 917.7C907.8 915.4 911.4 911.0 915.2 909.3C919.1 907.5 924.0 908.6 927.9 907.2C931.8 905.8 935.3 902.6 938.5 900.8C941.6 899.1 944.5 897.5 946.9 896.6C949.4 895.7 951.2 895.0 953.3 895.5C955.4 896.1 957.5 897.7 959.6 899.8C961.7 901.9 963.1 905.6 965.9 908.2C968.8 910.9 973.0 913.1 976.5 915.6C980.0 918.1 983.6 920.2 987.1 923.0C990.6 925.8 994.1 929.3 997.6 932.5C1001.2 935.7 1004.3 937.6 1008.2 942.0C1012.1 946.4 1016.7 954.4 1020.9 958.9C1025.1 963.5 1029.3 966.7 1033.6 969.5C1037.8 972.3 1042.4 974.3 1046.2 975.8C1050.1 977.4 1052.9 978.3 1056.8 979.0C1060.7 979.7 1065.6 979.4 1069.5 980.1C1073.4 980.8 1076.9 982.9 1080.1 983.2C1083.2 983.6 1085.7 981.8 1088.5 982.2C1091.3 982.5 1093.8 983.8 1097.0 985.3C1100.1 986.9 1104.0 990.0 1107.5 991.7C1111.0 993.3 1114.6 994.6 1118.1 995.3C1121.6 996.0 1125.1 996.5 1128.7 995.9C1132.2 995.3 1136.0 992.6 1139.2 991.7C1142.4 990.8 1144.9 992.0 1147.7 990.6C1150.5 989.2 1153.0 986.0 1156.1 983.2C1159.3 980.4 1164.4 975.4 1166.7 973.7C1169.0 972.1 1167.3 974.7 1170.0 973.3C1172.7 971.9 1178.8 968.9 1182.7 965.3C1186.6 961.6 1189.4 956.1 1193.2 951.5C1197.1 947.0 1201.7 942.6 1205.9 937.8C1210.1 933.0 1214.4 929.0 1218.6 923.0C1222.8 917.0 1227.4 908.6 1231.3 901.9C1235.2 895.2 1239.6 886.8 1241.8 882.9C1244.1 878.9 1243.6 879.2 1245.0 878.2C1246.4 877.2 1247.7 876.7 1250.3 876.9C1252.9 877.2 1257.3 878.8 1260.9 879.7C1264.4 880.6 1268.3 881.0 1271.4 882.4C1274.6 883.8 1277.1 885.6 1279.9 888.1C1282.7 890.7 1285.5 893.4 1288.3 897.7C1291.1 901.9 1294.3 908.7 1296.8 913.5C1299.2 918.3 1301.0 922.1 1303.1 926.2C1305.2 930.2 1307.3 934.3 1309.5 937.8C1311.6 941.3 1313.0 945.5 1315.8 947.3C1318.6 949.1 1322.5 948.3 1326.4 948.8C1330.2 949.2 1334.8 950.3 1339.0 950.1C1343.3 949.8 1348.2 948.8 1351.7 947.3C1355.2 945.8 1357.4 942.8 1360.2 941.0C1363.0 939.1 1365.1 937.0 1368.6 936.1C1372.1 935.2 1377.1 935.4 1381.3 935.7C1385.5 936.0 1390.1 936.9 1394.0 937.8C1397.9 938.7 1400.7 939.7 1404.5 941.0C1408.4 942.2 1413.0 943.8 1417.2 945.2C1421.5 946.6 1425.7 948.3 1429.9 949.4C1434.1 950.6 1438.7 951.8 1442.6 952.2C1446.5 952.5 1449.3 951.0 1453.1 951.5C1457.0 952.0 1462.0 955.5 1465.8 955.1C1469.7 954.8 1472.9 951.6 1476.4 949.4C1479.9 947.2 1484.2 944.1 1487.0 942.0C1489.7 939.9 1490.6 939.6 1493.0 936.7C1495.4 933.9 1498.3 928.5 1501.5 925.1C1504.6 921.8 1508.5 919.6 1512.0 916.7C1515.5 913.8 1519.4 910.0 1522.6 907.8C1525.8 905.6 1528.6 904.2 1531.0 903.6C1533.5 902.9 1534.6 902.5 1537.4 904.0C1540.2 905.5 1544.4 908.9 1547.9 912.4C1551.5 916.0 1555.0 920.9 1558.5 925.1C1562.0 929.3 1565.5 934.1 1569.1 937.8C1572.6 941.5 1576.5 945.0 1579.6 947.3C1582.8 949.6 1584.6 950.4 1588.1 951.5C1591.6 952.7 1596.9 954.6 1600.8 954.3C1604.6 953.9 1607.8 950.7 1611.3 949.4C1614.9 948.2 1618.7 946.7 1621.9 946.9C1625.1 947.1 1627.2 949.4 1630.3 950.5C1633.5 951.6 1638.3 952.9 1640.9 953.6C1643.6 954.4 1644.6 954.4 1646.2 955.1C1647.8 955.8 1649.7 957.4 1650.4 957.9" stroke="#f5d451" stroke-width="1.4" fill="none" stroke-linejoin="round"/>
<path d="M4.2 910.3L11.6 863.8L18.0 872.3L23.7 860.7L28.5 842.7L33.8 819.5L39.1 806.8L46.1 803.6L50.7 848.0L55.4 842.7L60.2 861.7L67.6 859.6L75.0 852.2L79.9 868.1L84.5 861.7L93.0 849.1L98.9 848.0L103.5 891.3L107.8 897.7L114.1 889.2L117.3 889.2L122.6 876.5L126.8 881.8L131.4 873.4L136.3 889.2L141.2 911.4L146.2 895.5L151.1 901.9L156.4 895.5L165.2 878.6L170.1 929.3L175.0 945.2L180.0 931.5L184.9 937.8L189.1 935.7L194.4 945.2L198.6 937.8L203.9 941.0L208.8 948.4L213.4 977.9L218.3 1002.2L222.9 998.0L227.8 995.9L232.4 1001.2L237.3 986.4L242.6 974.8L246.2 975.8L251.5 992.7L256.1 992.7L261.4 977.9L266.2 986.4L270.5 987.5L275.8 984.3L281.0 969.5L285.7 954.7L289.9 916.7L294.1 907.2L299.0 920.9L303.6 916.7L308.9 954.7L312.7 958.9L317.6 976.9L322.2 965.3L327.1 955.8L332.8 962.1L337.5 958.9L342.3 944.1L347.0 917.7L351.2 927.2L356.7 899.8L361.3 920.9L366.6 949.4L371.3 953.6L375.5 938.9L380.3 945.2L385.2 954.7L389.9 956.8L394.6 953.6L398.9 967.4L404.4 970.6L408.6 982.2L413.7 975.8L418.5 967.4L423.8 970.6L428.0 988.5L432.7 1013.9L438.2 994.9L442.8 1006.5L448.1 1010.7L453.4 1016.0L457.6 1014.9L462.3 1007.5L466.1 1009.6L471.4 1001.2L476.2 1002.2L480.4 986.4L485.5 988.5L490.4 974.1L495.7 974.1L499.9 982.2L505.2 991.7L510.0 997.0L514.7 990.2L519.3 990.6L523.5 1006.5L528.4 993.8L533.3 997.0L537.5 1025.5L542.6 1024.4L547.4 1029.7L552.3 1022.3L556.9 1026.5L561.2 1016.0L566.4 960.0L571.3 998.0L576.4 998.0L580.8 989.6L585.5 992.7L590.3 994.9L595.0 1001.2L599.8 1017.0L604.5 1029.7L609.8 1013.9L614.4 999.1L619.3 1005.4L623.5 995.9L628.8 987.5L634.1 995.9L638.3 987.5L642.5 991.7L647.8 975.4L652.7 984.3L657.3 987.5L662.2 987.5L666.8 975.8L671.7 960.0L676.3 946.3L681.6 938.9L685.8 947.3L690.5 961.0L695.3 977.9L700.6 982.2L705.3 982.2L709.5 966.3L714.4 982.2L719.2 984.3L723.9 965.3L729.1 969.5L733.4 995.9L738.7 995.9L743.3 1005.4L747.5 967.4L752.4 976.9L757.7 963.2L762.5 952.6L767.2 961.0L772.0 968.4L776.7 973.7L780.0 972.7L785.3 969.5L790.6 965.7L795.8 966.3L800.7 970.6L804.9 961.0L810.2 919.4L814.4 918.8L820.1 912.4L824.4 914.6L829.0 914.6L833.9 922.0L838.1 924.1L843.0 935.7L848.0 944.1L852.9 922.0L857.8 920.3L862.4 938.9L867.7 953.6L871.9 953.6L877.2 949.0L882.1 949.0L886.7 889.2L890.9 879.7L895.8 839.5L900.9 880.7L905.7 883.3L910.0 874.0L915.2 889.2L919.5 915.6L924.7 913.5L929.6 925.5L933.8 902.9L939.5 918.8L943.8 916.7L949.0 908.2L953.3 894.1L958.6 929.3L965.9 930.0L971.2 927.9L976.5 927.9L981.8 937.8L986.0 948.4L990.9 981.1L995.5 983.2L1000.8 981.1L1006.1 977.5L1010.3 981.1L1015.6 990.6L1020.5 1011.8L1025.1 991.7L1030.4 979.0L1034.6 980.1L1038.8 957.9L1044.1 950.5L1049.0 963.2L1053.6 980.1L1058.9 982.2L1063.1 984.3L1068.4 989.6L1072.7 993.8L1077.9 999.1L1082.6 995.9L1087.4 994.9L1092.3 1009.6L1096.5 1021.3L1101.6 1025.5L1106.5 985.3L1111.7 980.7L1116.0 983.2L1120.6 991.7L1125.5 988.5L1130.8 977.9L1135.6 962.1L1140.3 975.8L1145.1 989.6L1149.8 957.9L1154.0 948.4L1159.3 970.6L1163.5 966.3L1168.8 946.3L1173.2 955.8L1177.4 948.4L1182.3 929.3L1186.9 901.9L1192.2 893.4L1197.0 902.9L1201.7 900.8L1207.0 904.0L1211.2 900.8L1216.1 880.7L1220.7 872.3L1225.6 855.4L1230.2 849.1L1234.4 830.0L1239.7 835.3L1244.4 837.4L1249.2 905.0L1254.1 919.8L1258.7 914.6L1263.4 916.7L1268.3 910.3L1273.5 935.7L1278.8 941.0L1283.7 950.5L1287.9 963.2L1292.6 975.8L1297.8 987.5L1302.7 971.6L1307.3 953.6L1312.0 968.4L1316.9 956.8L1321.7 932.5L1326.4 920.9L1331.2 912.4L1335.9 925.1L1340.1 942.0L1345.0 926.2L1349.6 914.1L1354.9 943.1L1360.2 937.8L1364.4 934.6L1369.3 931.0L1373.9 951.5L1378.8 966.3L1383.4 948.4L1387.6 957.9L1392.9 926.2L1397.8 933.2L1402.4 937.8L1407.1 966.3L1411.9 954.7L1416.8 953.6L1421.0 946.3L1426.3 960.0L1431.0 956.8L1436.2 960.0L1440.5 964.8L1445.8 955.8L1450.6 947.9L1455.3 960.6L1460.1 951.5L1464.8 952.6L1469.0 931.5L1473.9 914.6L1478.5 916.7L1483.8 910.3L1488.4 896.6L1493.3 878.2L1497.6 866.0L1502.5 890.3L1507.4 907.2L1512.0 905.0L1517.3 892.4L1521.5 899.8L1525.8 923.4L1531.0 920.5L1535.9 933.6L1541.2 960.0L1545.4 966.3L1549.6 960.0L1554.9 983.2L1559.6 967.4L1564.8 969.1L1569.1 958.9L1574.4 962.7L1579.2 965.7L1583.9 937.8L1588.5 920.9L1593.4 928.3L1598.7 940.5L1602.9 937.8L1607.1 918.8L1612.4 949.4L1616.6 937.4L1621.9 946.3L1626.1 1002.2L1630.8 1009.6L1635.6 982.2L1640.3 972.2L1645.6 979.6L1651.5 983.2" stroke="#7e57c2" stroke-width="3.3" fill="none" stroke-linejoin="round" stroke-linecap="round"/>
</g>
<path d="M3.5 37.5H1888.0M3.5 1082.5H1888.0M3.5 37.5V1082.5M1887.5 37.5V1082.5" stroke="#f0f1f4" stroke-width="2" fill="none"/>
<path d="M4 790.5H1887.5M4 1044.5H1887.5M1792.5 38V1082.5" stroke="#dddfe5" stroke-width="1" fill="none"/>
<text x="15.1" y="64.1" font-size="16.8" fill="#131722" textLength="263.2" lengthAdjust="spacingAndGlyphs" stroke="#131722" stroke-width="0.25">Dogecoin / TetherUS · 1D · Binance</text>
<text x="290.6" y="64.1" font-size="16.8" fill="#131722" textLength="9.6" lengthAdjust="spacingAndGlyphs" stroke="#131722" stroke-width="0.25">O</text>
<text x="301" y="64.1" font-size="16.8" fill="#e25c55" textLength="59.2" lengthAdjust="spacingAndGlyphs" stroke="#e25c55" stroke-width="0.25">0.20436</text>
<text x="371" y="64.1" font-size="16.8" fill="#131722" textLength="9.6" lengthAdjust="spacingAndGlyphs" stroke="#131722" stroke-width="0.25">H</text>
<text x="381.6" y="64.1" font-size="16.8" fill="#e25c55" textLength="59" lengthAdjust="spacingAndGlyphs" stroke="#e25c55" stroke-width="0.25">0.20853</text>
<text x="451.4" y="64.1" font-size="16.8" fill="#131722" textLength="7.6" lengthAdjust="spacingAndGlyphs" stroke="#131722" stroke-width="0.25">L</text>
<text x="460" y="64.1" font-size="16.8" fill="#e25c55" textLength="58.5" lengthAdjust="spacingAndGlyphs" stroke="#e25c55" stroke-width="0.25">0.19700</text>
<text x="528.3" y="64.1" font-size="16.8" fill="#131722" textLength="9.6" lengthAdjust="spacingAndGlyphs" stroke="#131722" stroke-width="0.25">C</text>
<text x="539" y="64.1" font-size="16.8" fill="#e25c55" textLength="58.5" lengthAdjust="spacingAndGlyphs" stroke="#e25c55" stroke-width="0.25">0.20196</text>
<text x="608.6" y="64.1" font-size="16.8" fill="#e25c55" textLength="135.5" lengthAdjust="spacingAndGlyphs" stroke="#e25c55" stroke-width="0.25">−0.00241 (−1.18%)</text>
<text x="15.1" y="87.7" font-size="16.8" fill="#131722" textLength="114.1" lengthAdjust="spacingAndGlyphs" stroke="#131722" stroke-width="0.25">EMA (20, close)</text>
<text x="140.8" y="87.7" font-size="16.8" fill="#2962ff" textLength="58.1" lengthAdjust="spacingAndGlyphs" stroke="#2962ff" stroke-width="0.25">0.22802</text>
<text x="15.1" y="111.7" font-size="16.8" fill="#131722" textLength="113.6" lengthAdjust="spacingAndGlyphs" stroke="#131722" stroke-width="0.25">SMA (50, close)</text>
<text x="139.7" y="111.7" font-size="16.8" fill="#e0434c" textLength="58.9" lengthAdjust="spacingAndGlyphs" stroke="#e0434c" stroke-width="0.25">0.23868</text>
<text x="15.1" y="818" font-size="16.8" fill="#131722" textLength="106" lengthAdjust="spacingAndGlyphs" stroke="#131722" stroke-width="0.25">RSI (14, close)</text>
<text x="132.7" y="818" font-size="16.8" fill="#7e57c2" textLength="41" lengthAdjust="spacingAndGlyphs" stroke="#7e57c2" stroke-width="0.25">39.85</text>
<text x="183.4" y="818" font-size="16.8" fill="#f0c435" textLength="40.6" lengthAdjust="spacingAndGlyphs" stroke="#f0c435" stroke-width="0.25">47.21</text>
<text x="1804.2" y="141.6" font-size="17.2" fill="#131722" textLength="59.2" lengthAdjust="spacingAndGlyphs" stroke="#131722" stroke-width="0.25">0.45000</text>
<text x="1804.2" y="228.6" font-size="17.2" fill="#131722" textLength="59.2" lengthAdjust="spacingAndGlyphs" stroke="#131722" stroke-width="0.25">0.40000</text>
<text x="1804.2" y="315.3" font-size="17.2" fill="#131722" textLength="59.2" lengthAdjust="spacingAndGlyphs" stroke="#131722" stroke-width="0.25">0.35000</text>
<text x="1804.2" y="401.8" font-size="17.2" fill="#131722" textLength="59.2" lengthAdjust="spacingAndGlyphs" stroke="#131722" stroke-width="0.25">0.30000</text>
<text x="1804.2" y="488.8" font-size="17.2" fill="#131722" textLength="59.2" lengthAdjust="spacingAndGlyphs" stroke="#131722" stroke-width="0.25">0.25000</text>
<text x="1804.2" y="662.5" font-size="17.2" fill="#131722" textLength="59.2" lengthAdjust="spacingAndGlyphs" stroke="#131722" stroke-width="0.25">0.15000</text>
<text x="1804.2" y="748.0" font-size="17.2" fill="#131722" textLength="59.2" lengthAdjust="spacingAndGlyphs" stroke="#131722" stroke-width="0.25">0.10000</text>
<text x="1804.7" y="853.6" font-size="17.2" fill="#131722" textLength="41" lengthAdjust="spacingAndGlyphs" stroke="#131722" stroke-width="0.25">80.00</text>
<text x="1804.7" y="920.8" font-size="17.2" fill="#131722" textLength="41" lengthAdjust="spacingAndGlyphs" stroke="#131722" stroke-width="0.25">60.00</text>
<rect x="1797.5" y="43.5" width="83" height="36" rx="5" fill="#fff" stroke="#eceef2" stroke-width="1.2"/>
<text x="1810.5" y="68" font-size="17.2" fill="#131722" textLength="37.5" lengthAdjust="spacingAndGlyphs" stroke="#131722" stroke-width="0.25">USDT</text>
<path d="M1793.1 402.3H1868.6a3 3 0 0 1 3 3V422.8a3 3 0 0 1 -3 3H1793.1z" fill="#0000f8"/>
<text x="1804.2" y="420.4" font-size="17.2" fill="#fff" textLength="59.1" lengthAdjust="spacingAndGlyphs" stroke="#fff" stroke-width="0.25">0.29000</text>
<path d="M1724.9 483.4H1791.8V506.7H1724.9a3 3 0 0 1 -3 -3V486.4a3 3 0 0 1 3 -3z" fill="#e04750"/>
<text x="1728.8" y="501.4" font-size="17.2" fill="#fff" textLength="57.5" lengthAdjust="spacingAndGlyphs" stroke="#fff" stroke-width="0.25">SMA:MA</text>
<path d="M1793.1 483.4H1868.6a3 3 0 0 1 3 3V503.7a3 3 0 0 1 -3 3H1793.1z" fill="#e04750"/>
<text x="1804.4" y="501.4" font-size="17.2" fill="#fff" textLength="58.5" lengthAdjust="spacingAndGlyphs" stroke="#fff" stroke-width="0.25">0.23868</text>
<path d="M1751.4 507.3H1791.8V530.6H1751.4a3 3 0 0 1 -3 -3V510.3a3 3 0 0 1 3 -3z" fill="#3c64f5"/>
<text x="1755.9" y="525.4" font-size="17.2" fill="#fff" textLength="30.4" lengthAdjust="spacingAndGlyphs" stroke="#fff" stroke-width="0.25">EMA</text>
<path d="M1793.1 507.3H1868.6a3 3 0 0 1 3 3V527.6a3 3 0 0 1 -3 3H1793.1z" fill="#3c64f5"/>
<text x="1804.4" y="525.4" font-size="17.2" fill="#fff" textLength="58.5" lengthAdjust="spacingAndGlyphs" stroke="#fff" stroke-width="0.25">0.22802</text>
<path d="M1793.1 531.2H1868.6a3 3 0 0 1 3 3V551.5a3 3 0 0 1 -3 3H1793.1z" fill="#0000f8"/>
<text x="1804.4" y="549.2" font-size="17.2" fill="#fff" textLength="58.8" lengthAdjust="spacingAndGlyphs" stroke="#fff" stroke-width="0.25">0.21000</text>
<path d="M1702.7 555.1H1791.8V578.4H1702.7a3 3 0 0 1 -3 -3V558.1a3 3 0 0 1 3 -3z" fill="#de5e57"/>
<text x="1705.5" y="573.1" font-size="17.2" fill="#fff" textLength="78.8" lengthAdjust="spacingAndGlyphs" stroke="#fff" stroke-width="0.25">DOGEUSDT</text>
<path d="M1793.1 555.1H1874a3 3 0 0 1 3 3V614.5a3 3 0 0 1 -3 3H1793.1z" fill="#de5e57"/>
<text x="1804.4" y="572.8" font-size="17.2" fill="#fff" textLength="58.5" lengthAdjust="spacingAndGlyphs" stroke="#fff" stroke-width="0.25">0.20196</text>
<text x="1805" y="592.6" font-size="17.2" fill="#fff" textLength="58.8" lengthAdjust="spacingAndGlyphs" stroke="#fff" stroke-width="0.25">+33.40%</text>
<text x="1804.4" y="612" font-size="17.2" fill="#f9dcd9" textLength="64.6" lengthAdjust="spacingAndGlyphs" stroke="#f9dcd9" stroke-width="0.25">09:22:22</text>
<path d="M1793.1 661.4H1868.6a3 3 0 0 1 3 3V681.7a3 3 0 0 1 -3 3H1793.1z" fill="#0000f8"/>
<text x="1804.4" y="679.4" font-size="17.2" fill="#fff" textLength="58.8" lengthAdjust="spacingAndGlyphs" stroke="#fff" stroke-width="0.25">0.14000</text>
<path d="M1684.2 947.3H1791.8V970.6H1684.2a3 3 0 0 1 -3 -3V950.3a3 3 0 0 1 3 -3z" fill="#f7d354"/>
<text x="1687.5" y="965.4" font-size="17.2" fill="#131722" textLength="98.5" lengthAdjust="spacingAndGlyphs" stroke="#131722" stroke-width="0.25">RSI-based MA</text>
<path d="M1793.1 947.3H1850.3a3 3 0 0 1 3 3V967.6a3 3 0 0 1 -3 3H1793.1z" fill="#f7d354"/>
<text x="1804.7" y="965.4" font-size="17.2" fill="#131722" textLength="41" lengthAdjust="spacingAndGlyphs" stroke="#131722" stroke-width="0.25">47.21</text>
<path d="M1760 972.7H1791.8V996H1760a3 3 0 0 1 -3 -3V975.7a3 3 0 0 1 3 -3z" fill="#7e57c2"/>
<text x="1763.5" y="990.8" font-size="17.2" fill="#fff" textLength="22.5" lengthAdjust="spacingAndGlyphs" stroke="#fff" stroke-width="0.25">RSI</text>
<path d="M1793.1 972.7H1850.3a3 3 0 0 1 3 3V993a3 3 0 0 1 -3 3H1793.1z" fill="#7e57c2"/>
<text x="1804.7" y="990.8" font-size="17.2" fill="#fff" textLength="41" lengthAdjust="spacingAndGlyphs" stroke="#fff" stroke-width="0.25">39.85</text>
<text x="117.7" y="1069.3" font-size="17.2" fill="#131722" textLength="28.4" lengthAdjust="spacingAndGlyphs" stroke="#131722" stroke-width="0.25">Dec</text>
<text x="261.2" y="1069.3" font-size="17.2" fill="#131722" font-weight="bold" textLength="37.6" lengthAdjust="spacingAndGlyphs">2025</text>
<text x="414.3" y="1069.3" font-size="17.2" fill="#131722" textLength="27.6" lengthAdjust="spacingAndGlyphs" stroke="#131722" stroke-width="0.25">Feb</text>
<text x="548.0" y="1069.3" font-size="17.2" fill="#131722" textLength="27.5" lengthAdjust="spacingAndGlyphs" stroke="#131722" stroke-width="0.25">Mar</text>
<text x="697.4" y="1069.3" font-size="17.2" fill="#131722" textLength="24.9" lengthAdjust="spacingAndGlyphs" stroke="#131722" stroke-width="0.25">Apr</text>
<text x="838.0" y="1069.3" font-size="17.2" fill="#131722" textLength="30.2" lengthAdjust="spacingAndGlyphs" stroke="#131722" stroke-width="0.25">May</text>
<text x="988.3" y="1069.3" font-size="17.2" fill="#131722" textLength="25.8" lengthAdjust="spacingAndGlyphs" stroke="#131722" stroke-width="0.25">Jun</text>
<text x="1134.3" y="1069.3" font-size="17.2" fill="#131722" textLength="20.4" lengthAdjust="spacingAndGlyphs" stroke="#131722" stroke-width="0.25">Jul</text>
<text x="1278.3" y="1069.3" font-size="17.2" fill="#131722" textLength="28.5" lengthAdjust="spacingAndGlyphs" stroke="#131722" stroke-width="0.25">Aug</text>
<text x="1426.3" y="1069.3" font-size="17.2" fill="#131722" textLength="28.5" lengthAdjust="spacingAndGlyphs" stroke="#131722" stroke-width="0.25">Sep</text>
<text x="1571.4" y="1069.3" font-size="17.2" fill="#131722" textLength="24.9" lengthAdjust="spacingAndGlyphs" stroke="#131722" stroke-width="0.25">Oct</text>
<text x="1717.7" y="1069.3" font-size="17.2" fill="#131722" textLength="28.4" lengthAdjust="spacingAndGlyphs" stroke="#131722" stroke-width="0.25">Nov</text>
<g transform="translate(1651.2 772.5)"><path d="M12.95 -4.46A13.7 13.7 0 1 1 4.23 -13.03" fill="none" stroke="#9c27b0" stroke-width="1.9" stroke-linecap="round"/><circle cx="9.5" cy="-9.6" r="3.6" fill="#e24649"/><path d="M3.4 -7.4L-6.1 0.2H-0.6L-4.9 7.4L6.1 -0.4H0.6z" fill="#9c27b0"/></g>
<g fill="#141414"><path d="M7 1113.9H24.1V1134.5H15.2V1122.2H7z"/><circle cx="30.8" cy="1117.7" r="3.8"/><path d="M38 1113.9H48.6L40.8 1134.5H30.4z"/></g>
<text x="58.1" y="1134.5" font-size="29" fill="#141414" font-weight="bold" textLength="170" lengthAdjust="spacingAndGlyphs" stroke="#141414" stroke-width="0.6">TradingView</text>
</svg>
</body></html>
